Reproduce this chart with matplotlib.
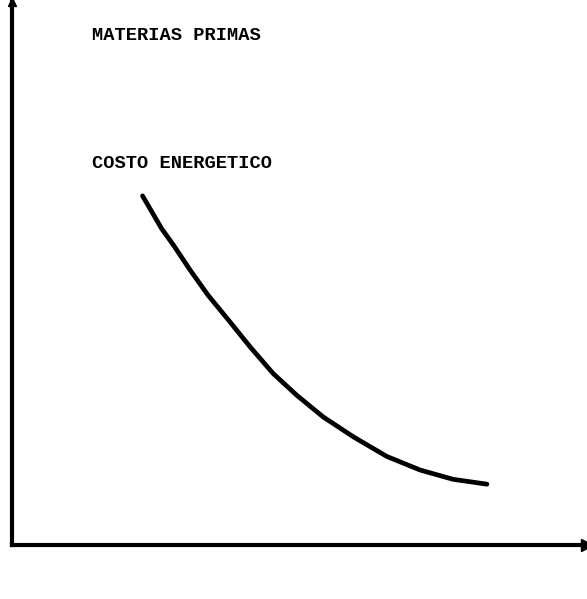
import matplotlib.pyplot as plt

# curva dibujada a mano (unidades arbitrarias, 0-100)
costo_x = [22.7, 24.3, 26.0, 28.1, 31.0, 34.1, 37.9, 41.4, 45.4, 49.5,
           54.1, 59.4, 65.2, 71.0, 76.7, 82.6]
costo_y = [64.3, 61.4, 58.3, 55.2, 50.6, 46.0, 41.1, 36.5, 31.6, 27.6,
           23.6, 19.9, 16.3, 13.8, 12.1, 11.2]

etiquetas = ["MATERIAS PRIMAS", "COSTO ENERGETICO"]
etiquetas_y = [93.9, 70.3]


def main():
    fig = plt.figure(figsize=(5.87, 5.99), dpi=100)
    ax = fig.add_axes([12 / 587, 54 / 599, 575 / 587, 543 / 599])

    ax.plot(costo_x, costo_y, color='black', lw=3.4,
            solid_capstyle='round', solid_joinstyle='round')

    for texto, y in zip(etiquetas, etiquetas_y):
        ax.text(13.9, y, texto, family='Liberation Mono', fontsize=13.5,
                fontweight='bold', va='center', ha='left', color='black')

    ax.set_xlim(0, 100)
    ax.set_ylim(0, 100)
    for lado in ['top', 'right']:
        ax.spines[lado].set_visible(False)
    for lado in ['left', 'bottom']:
        ax.spines[lado].set_linewidth(3)
    ax.set_xticks([])
    ax.set_yticks([])

    # puntas de flecha de los ejes
    ax.plot([0], [100], marker='^', color='black', markersize=6, clip_on=False)
    ax.plot([100], [0], marker='>', color='black', markersize=8, clip_on=False)

    fig.savefig("out.png", dpi=100)


main()
